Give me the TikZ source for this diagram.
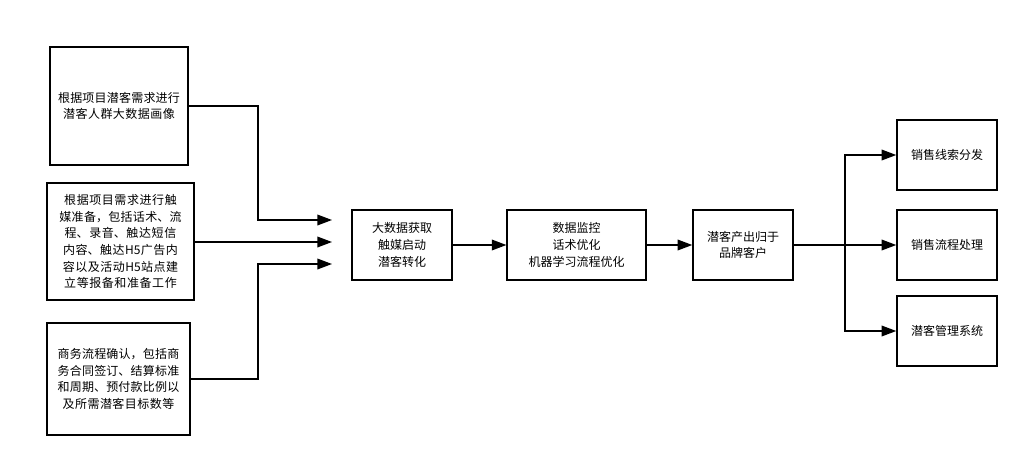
\documentclass[tikz,border=0pt]{standalone}
\usepackage{fontspec}
\setmainfont{Noto Sans CJK SC}
\XeTeXlinebreaklocale "zh"
\XeTeXlinebreakskip=0pt plus 1pt
\usetikzlibrary{arrows.meta}
\begin{document}
\begin{tikzpicture}[x=0.75pt,y=-0.75pt,
 box/.style={draw,line width=1.1pt,align=center,font=\fontsize{9}{12.5}\selectfont,inner sep=2pt},
 arr/.style={line width=1.1pt,-{Triangle[length=11pt,width=8pt]}},
 ln/.style={line width=1.1pt}]
\useasboundingbox (0,0) rectangle (1029,468);
\node[box,minimum width=103.5pt,minimum height=88.5pt,text width=97pt] (a) at (119,106) {根据项目潜客需求进行潜客人群大数据画像};
\node[box,minimum width=110pt,minimum height=88pt,text width=100pt] (b) at (120.5,241.5) {根据项目需求进行触媒准备，包括话术、流程、录音、触达短信内容、触达H5广告内容以及活动H5站点建立等报备和准备工作};
\node[box,minimum width=107pt,minimum height=84pt,text width=97pt] (c) at (118.5,379) {商务流程确认，包括商务合同签订、结算标准和周期、预付款比例以及所需潜客目标数等};
\coordinate (t1) at (332,220);
\coordinate (t2) at (332,242);
\coordinate (t3) at (332,264);
\draw[arr] (a.east) -| (258,220) -- (t1);
\draw[arr] (b.east |- t2) -- (t2);
\draw[arr] (c.east) -| (258,264) -- (t3);
\node[box,minimum width=75pt,minimum height=52.5pt] (d) at (402,245) {大数据获取\\触媒启动\\潜客转化};
\node[box,minimum width=104pt,minimum height=52.5pt] (e) at (576.5,245) {数据监控\\话术优化\\机器学习流程优化};
\node[box,minimum width=75pt,minimum height=52.5pt] (f) at (743,245) {潜客产出归于\\品牌客户};
\node[box,minimum width=75pt,minimum height=52.5pt] (g) at (947,155) {销售线索分发};
\node[box,minimum width=75pt,minimum height=52.5pt] (h) at (947,245) {销售流程处理};
\node[box,minimum width=75pt,minimum height=52.5pt] (i) at (947,331) {潜客管理系统};
\draw[arr] (d) -- (e);
\draw[arr] (e) -- (f);
\coordinate (s) at (845,245);
\draw[ln] (f.east) -- (s);
\draw[arr] (s) |- (g.west);
\draw[arr] (s) -- (h.west);
\draw[arr] (s) |- (i.west);
\end{tikzpicture}
\end{document}
